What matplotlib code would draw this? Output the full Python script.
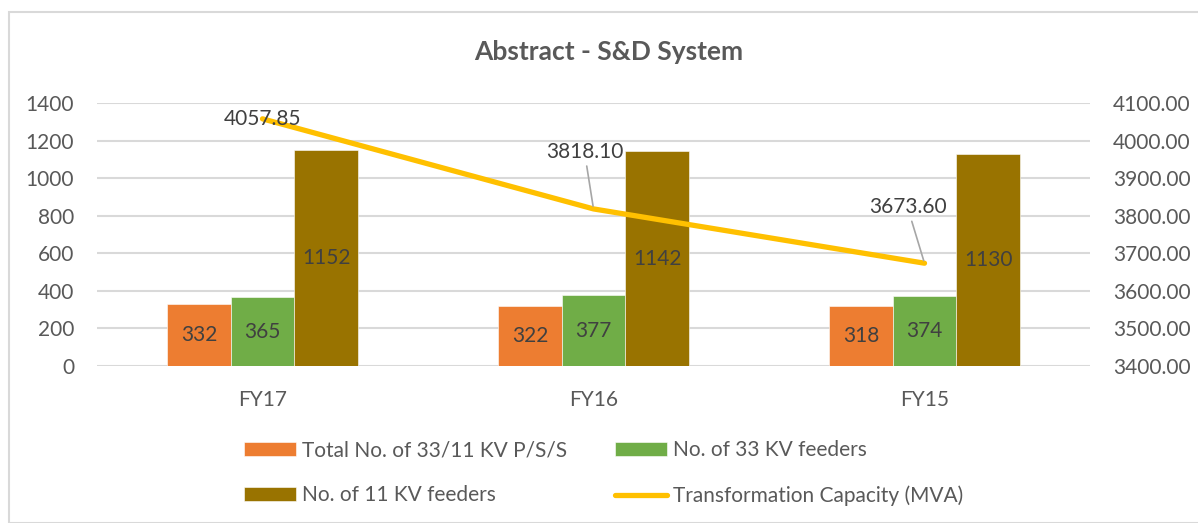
import matplotlib
matplotlib.use("Agg")
import matplotlib.pyplot as plt
import numpy as np
from matplotlib.patches import Rectangle

plt.rcParams['font.family'] = ['Lato', 'DejaVu Sans']

categories = ["FY17", "FY16", "FY15"]
pss = [332, 322, 318]
kv33 = [365, 377, 374]
kv11 = [1152, 1142, 1130]
capacity = [4057.85, 3818.10, 3673.60]

series_names = ["Total No. of 33/11 KV P/S/S", "No. of 33 KV feeders",
                "No. of 11 KV feeders", "Transformation Capacity (MVA)"]
colors = ["#ED7D31", "#70AD47", "#997300", "#FFC000"]

W, H = 1198, 523
fig = plt.figure(figsize=(W / 100, H / 100), dpi=100)

# chart border
fig.patches.append(Rectangle((9 / W, 0), 1.2, (H - 12) / H, transform=fig.transFigure,
                             fill=False, edgecolor="#D9D9D9", linewidth=1.5, zorder=0))

ax = fig.add_axes([97 / W, 1 - 366 / H, (1090 - 97) / W, (366 - 103) / H])
ax2 = ax.twinx()

x = np.arange(len(categories))
bw = 0.192
label_color = "#404040"
tick_color = "#595959"

bar_handles = []
for i, (vals, c) in enumerate(zip([pss, kv33, kv11], colors[:3])):
    bars = ax.bar(x + (i - 1) * bw, vals, width=bw, color=c, edgecolor="white",
                  linewidth=0.4, label=series_names[i], zorder=3)
    bar_handles.append(bars)
    ax.bar_label(bars, labels=[str(v) for v in vals], label_type="center",
                 fontsize=15, color=label_color, zorder=4)

ax.set_ylim(0, 1400)
ax.set_yticks(np.arange(0, 1401, 200))
ax.set_xlim(-0.5, 2.5)
ax.set_xticks(x)
ax.set_xticklabels(categories)
ax.grid(axis="y", color="#D9D9D9", linewidth=1.5, zorder=0)
ax.set_axisbelow(True)
for sp in ax.spines.values():
    sp.set_visible(False)
for sp in ax2.spines.values():
    sp.set_visible(False)
ax.tick_params(axis="both", length=0, labelsize=15, colors=tick_color)
ax.tick_params(axis="x", pad=17)
ax.tick_params(axis="y", pad=16.5)

line, = ax2.plot(x, capacity, color=colors[3], linewidth=3.8, label=series_names[3],
                 solid_capstyle="round", zorder=5)
ax2.set_ylim(3400, 4100)
ax2.set_yticks(np.arange(3400, 4101, 100))
ax2.set_yticklabels([f"{v:.2f}" for v in np.arange(3400, 4101, 100)])
ax2.tick_params(axis="y", length=0, labelsize=15, colors=tick_color, pad=16.5)

# line data labels (offsets in pixels)
offsets = [(0, 0), (-9, 57), (-17, 56)]
for xi, v, (dx, dy) in zip(x, capacity, offsets):
    if dx == 0 and dy == 0:
        ax2.annotate(f"{v:.2f}", (xi, v), ha="center", va="center", fontsize=15,
                     color=label_color, zorder=6)
    else:
        ax2.annotate(f"{v:.2f}", (xi, v), xytext=(dx * 0.72, dy * 0.72),
                     textcoords="offset points", ha="center", va="center",
                     fontsize=15, color=label_color, zorder=6,
                     arrowprops=dict(arrowstyle="-", color="#A6A6A6", lw=1.2,
                                     shrinkA=1, shrinkB=2))

fig.text(0.5 * (473 + 745) / W, 1 - 52 / H, "Abstract - S&D System", ha="center",
         va="center", fontsize=19, fontweight="bold", color=tick_color)

# legend entries ordered so that rows read left-to-right like the reference
handles = [bar_handles[0], bar_handles[2], bar_handles[1], line]
labels = [series_names[0], series_names[2], series_names[1], series_names[3]]
fig.legend(handles, labels, loc="center", bbox_to_anchor=(603.5 / W, 1 - 473 / H),
           ncol=2, frameon=False, fontsize=15, handlelength=2.5, handletextpad=0.3,
           columnspacing=2.3, labelspacing=1.2, labelcolor=tick_color)

fig.savefig("out.png", dpi=100)
